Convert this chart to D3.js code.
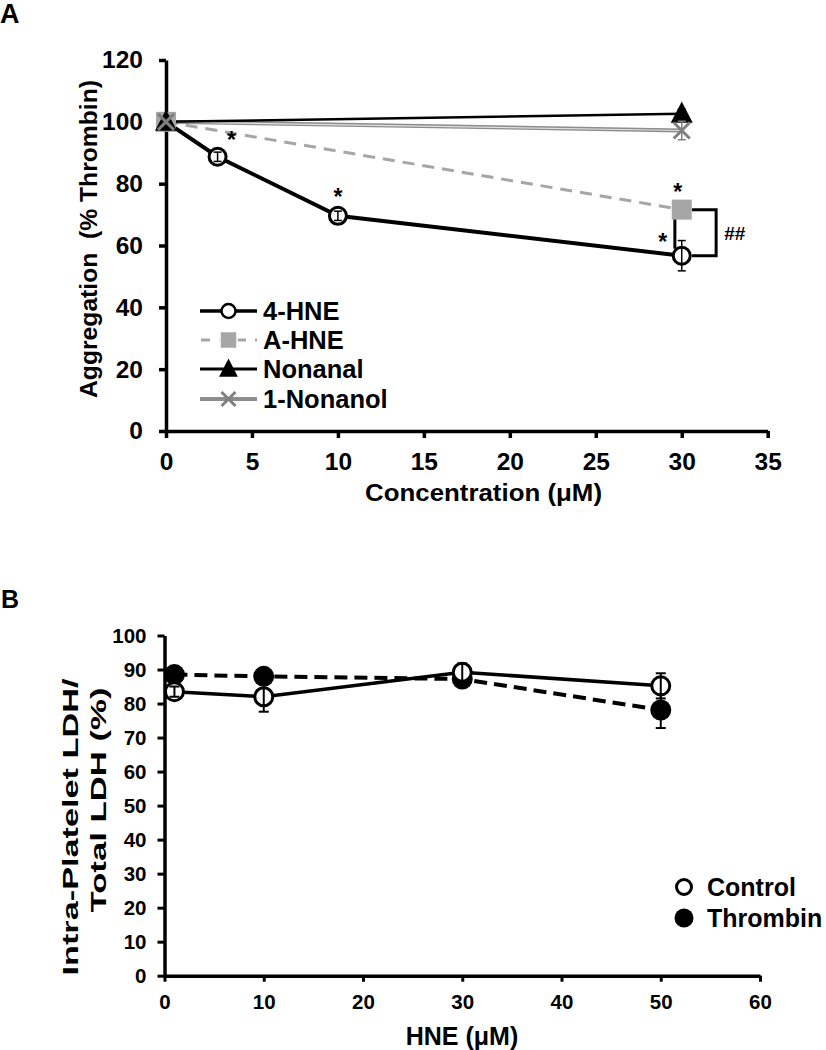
<!DOCTYPE html>
<html><head><meta charset="utf-8">
<script src="https://cdn.jsdelivr.net/npm/d3@7"></script>
<style>
body{margin:0;background:#fff;}
svg{display:block;font-family:Arial,"Liberation Sans",sans-serif;font-weight:bold;}
</style></head>
<body>
<script>
// ---------- Panel A data ----------
const aXTicks = [0,5,10,15,20,25,30,35];
const aYTicks = [0,20,40,60,80,100,120];
const hne4X = [0,3,10,30];
const hne4Y = [100,88.7,69.6,56.7];
const hne4Err = [0,1.5,1.5,4.9];
const ahneX = [0,30];
const ahneY = [100,71.6];
const ahneErr = [0,1];
const nonanalX = [0,30];
const nonanalY = [100,102.6];
const nonanalErr = [0,1.5];
const nonanolX = [0,30];
const nonanolY = [100,97.2];
const nonanolErr = [0,3];
const legendA = ["4-HNE","A-HNE","Nonanal","1-Nonanol"];
const starsA = [{x:3,y:88.7},{x:10,y:69.6},{x:30,y:71.6},{x:30,y:56.7}];

// ---------- Panel B data ----------
const bXTicks = [0,10,20,30,40,50,60];
const bYTicks = [0,10,20,30,40,50,60,70,80,90,100];
const bX = [1,10,30,50];
const controlY = [83.5,82.0,89.2,85.2];
const controlErr = [1.5,4.4,2.6,3.7];
const thrombinY = [88.5,88.0,87.2,78.1];
const thrombinErr = [1,1,2,5.3];
const legendB = ["Control","Thrombin"];

const W=826,H=1050;
const svg=d3.select("body").append("svg").attr("width",W).attr("height",H);

// ================= PANEL A =================
const xA=d3.scaleLinear().domain([0,35]).range([166,767.7]);
const yA=d3.scaleLinear().domain([0,120]).range([431,60]);

svg.append("text").attr("x",0).attr("y",23).attr("font-size",27).text("A");

const gAy=svg.append("g").attr("transform","translate(166,0)")
  .call(d3.axisLeft(yA).tickValues(aYTicks).tickSize(7).tickSizeOuter(0).tickPadding(16));
const gAx=svg.append("g").attr("transform","translate(0,431)")
  .call(d3.axisBottom(xA).tickValues(aXTicks).tickSize(7).tickSizeOuter(0).tickPadding(15));
[gAy,gAx].forEach(g=>{
  g.select(".domain").attr("stroke","#000").attr("stroke-width",3.5);
  g.selectAll(".tick line").attr("stroke","#000").attr("stroke-width",3.5);
  g.selectAll(".tick text").attr("font-size",24.5).attr("font-weight","bold").attr("fill","#000")
   .attr("font-family","Arial,'Liberation Sans',sans-serif");
});
svg.append("text").attr("x",483.5).attr("y",500.5).attr("text-anchor","middle")
  .attr("font-size",24).attr("textLength",237).attr("lengthAdjust","spacingAndGlyphs")
  .text("Concentration (μM)");
svg.append("text").attr("transform","translate(89,239) rotate(-90)").attr("text-anchor","middle")
  .attr("dy","0.35em").attr("font-size",24).attr("textLength",318).attr("lengthAdjust","spacingAndGlyphs")
  .attr("xml:space","preserve").text("Aggregation  (% Thrombin)");

const lineA=d3.line().x(d=>xA(d[0])).y(d=>yA(d[1]));
const zipA=(xs,ys)=>xs.map((x,i)=>[x,ys[i]]);

// A-HNE dashed
svg.append("path").attr("d",lineA(zipA(ahneX,ahneY))).attr("fill","none")
  .attr("stroke","#a6a6a6").attr("stroke-width",3).attr("stroke-dasharray","12,8");
// 1-Nonanol (double gray)
svg.append("path").attr("d",lineA(zipA(nonanolX,nonanolY))).attr("fill","none")
  .attr("stroke","#8c8c8c").attr("stroke-width",4);
svg.append("path").attr("d",lineA(zipA(nonanolX,nonanolY))).attr("fill","none")
  .attr("stroke","#e0e0e0").attr("stroke-width",1.2);
// Nonanal
svg.append("path").attr("d",lineA(zipA(nonanalX,nonanalY))).attr("fill","none")
  .attr("stroke","#000").attr("stroke-width",2.5);
// 4-HNE
svg.append("path").attr("d",lineA(zipA(hne4X,hne4Y))).attr("fill","none")
  .attr("stroke","#000").attr("stroke-width",4);

// bracket (##)
const brX = 32, brLeft = 30.6, brInner = 29.6;
svg.append("path").attr("fill","none").attr("stroke","#000").attr("stroke-width",3)
  .attr("d",d3.line()([[xA(brLeft),yA(ahneY[1])],[xA(brX),yA(ahneY[1])],[xA(brX),yA(hne4Y[3])],[xA(brLeft),yA(hne4Y[3])]]));
svg.append("line").attr("x1",xA(brInner)).attr("x2",xA(brInner))
  .attr("y1",yA(ahneY[1])+8).attr("y2",yA(hne4Y[3])-7).attr("stroke","#000").attr("stroke-width",3);
svg.append("text").attr("x",xA(brX)+8).attr("y",(yA(ahneY[1])+yA(hne4Y[3]))/2+7)
  .attr("font-size",19).text("##");

function errBars(g,xs,ys,es,xs_,ys_,color,cap,w){
  xs.forEach((x,i)=>{
    if(!es[i]) return;
    const cx=xs_(x),t=ys_(ys[i]+es[i]),b=ys_(ys[i]-es[i]);
    g.append("line").attr("x1",cx).attr("x2",cx).attr("y1",t).attr("y2",b).attr("stroke",color).attr("stroke-width",w);
    g.append("line").attr("x1",cx-cap).attr("x2",cx+cap).attr("y1",t).attr("y2",t).attr("stroke",color).attr("stroke-width",w);
    g.append("line").attr("x1",cx-cap).attr("x2",cx+cap).attr("y1",b).attr("y2",b).attr("stroke",color).attr("stroke-width",w);
  });
}
const mA=svg.append("g");
function triPath(cx,cy,s){return `M${cx},${cy-s*0.62}L${cx+s*0.55},${cy+s*0.45}L${cx-s*0.55},${cy+s*0.45}Z`;}
function xPath(cx,cy,s){return `M${cx-s},${cy-s}L${cx+s},${cy+s}M${cx-s},${cy+s}L${cx+s},${cy-s}`;}

hne4X.forEach((x,i)=>{
  mA.append("circle").attr("cx",xA(x)).attr("cy",yA(hne4Y[i])).attr("r",8.5)
    .attr("fill","#fff").attr("stroke","#000").attr("stroke-width",3);
});
errBars(mA,hne4X,hne4Y,hne4Err,xA,yA,"#000",4,1.5);
ahneX.forEach((x,i)=>{
  mA.append("rect").attr("x",xA(x)-10).attr("y",yA(ahneY[i])-10).attr("width",20).attr("height",20)
    .attr("fill","#a6a6a6");
});
errBars(mA,nonanalX,nonanalY,nonanalErr,xA,yA,"#000",4,1.5);
nonanalX.forEach((x,i)=>{
  mA.append("path").attr("d",triPath(xA(x),yA(nonanalY[i]),20)).attr("fill","#000");
});
errBars(mA,nonanolX,nonanolY,nonanolErr,xA,yA,"#808080",4,1.5);
nonanolX.forEach((x,i)=>{
  mA.append("path").attr("d",xPath(xA(x),yA(nonanolY[i]),8)).attr("stroke","#808080")
    .attr("stroke-width",3).attr("fill","none");
});

// stars
const starOff=[[14,-22],[0,-24],[-4,-23],[-19,-19]];
starsA.forEach((s,i)=>{
  svg.append("text").attr("x",xA(s.x)+starOff[i][0]).attr("y",yA(s.y)+starOff[i][1]+13)
    .attr("text-anchor","middle").attr("font-size",23).text("*");
});

// legend A
const legY=[311,340,369,399];
const lg=svg.append("g");
legendA.forEach((name,i)=>{
  const y=legY[i];
  const ln=lg.append("line").attr("x1",200).attr("x2",257).attr("y1",y).attr("y2",y);
  if(i===0){ln.attr("stroke","#000").attr("stroke-width",3.5);
    lg.append("circle").attr("cx",228.5).attr("cy",y).attr("r",7).attr("fill","#fff").attr("stroke","#000").attr("stroke-width",2.5);}
  if(i===1){ln.attr("stroke","#a6a6a6").attr("stroke-width",3).attr("stroke-dasharray","9,9").attr("stroke-dashoffset",-1);
    lg.append("rect").attr("x",220).attr("y",y-8.5).attr("width",17).attr("height",17).attr("fill","#a6a6a6").attr("stroke","#fff").attr("stroke-width",1.5);}
  if(i===2){ln.attr("stroke","#000").attr("stroke-width",3);
    lg.append("path").attr("d",triPath(228.5,y,17)).attr("fill","#000");}
  if(i===3){ln.attr("stroke","#8c8c8c").attr("stroke-width",4);
    lg.append("path").attr("d",xPath(228.5,y,7)).attr("stroke","#808080").attr("stroke-width",3).attr("fill","none");}
  lg.append("text").attr("x",263).attr("y",y).attr("dy","0.36em").attr("font-size",25.5).text(name);
});

// ================= PANEL B =================
const xB=d3.scaleLinear().domain([0,60]).range([164.5,760]);
const yB=d3.scaleLinear().domain([0,100]).range([975.7,635.5]);

svg.append("text").attr("x",1).attr("y",608).attr("font-size",25).text("B");

const gBy=svg.append("g").attr("transform","translate(164.5,0)")
  .call(d3.axisLeft(yB).tickValues(bYTicks).tickSize(7).tickSizeOuter(0).tickPadding(11));
const gBx=svg.append("g").attr("transform","translate(0,975.7)")
  .call(d3.axisBottom(xB).tickValues(bXTicks).tickSize(6).tickSizeOuter(0).tickPadding(13));
[gBy,gBx].forEach(g=>{
  g.select(".domain").attr("stroke","#000").attr("stroke-width",3.5);
  g.selectAll(".tick line").attr("stroke","#000").attr("stroke-width",3);
  g.selectAll(".tick text").attr("font-size",20.5).attr("font-weight","bold").attr("fill","#000")
   .attr("font-family","Arial,'Liberation Sans',sans-serif");
});
svg.append("text").attr("x",462).attr("y",1045).attr("text-anchor","middle").attr("font-size",25).text("HNE (μM)");
svg.append("text").attr("transform","translate(70,827) rotate(-90)").attr("text-anchor","middle")
  .attr("dy","0.35em").attr("font-size",22).attr("textLength",297).attr("lengthAdjust","spacingAndGlyphs")
  .text("Intra-Platelet LDH/");
svg.append("text").attr("transform","translate(98,800) rotate(-90)").attr("text-anchor","middle")
  .attr("dy","0.35em").attr("font-size",22).attr("textLength",225).attr("lengthAdjust","spacingAndGlyphs")
  .text("Total LDH (%)");

const lineB=d3.line().x(d=>xB(d[0])).y(d=>yB(d[1]));
svg.append("path").attr("d",lineB(zipA(bX,thrombinY))).attr("fill","none")
  .attr("stroke","#000").attr("stroke-width",4).attr("stroke-dasharray","13,7");
svg.append("path").attr("d",lineB(zipA(bX,controlY))).attr("fill","none")
  .attr("stroke","#000").attr("stroke-width",3.5);
const mB=svg.append("g");
errBars(mB,bX,thrombinY,thrombinErr,xB,yB,"#000",5,2);
bX.forEach((x,i)=>{
  mB.append("circle").attr("cx",xB(x)).attr("cy",yB(thrombinY[i])).attr("r",10.5).attr("fill","#000");
});
bX.forEach((x,i)=>{
  mB.append("circle").attr("cx",xB(x)).attr("cy",yB(controlY[i])).attr("r",9)
    .attr("fill","#fff").attr("stroke","#000").attr("stroke-width",3);
});
errBars(mB,bX,controlY,controlErr,xB,yB,"#000",5,2);

// legend B
const lgB=svg.append("g");
lgB.append("circle").attr("cx",684).attr("cy",887).attr("r",7.5).attr("fill","#fff").attr("stroke","#000").attr("stroke-width",3);
lgB.append("circle").attr("cx",684).attr("cy",918).attr("r",9.5).attr("fill","#000");
legendB.forEach((n,i)=>{
  lgB.append("text").attr("x",707).attr("y",[887,918][i]).attr("dy","0.36em").attr("font-size",25).text(n);
});
</script>
</body></html>
